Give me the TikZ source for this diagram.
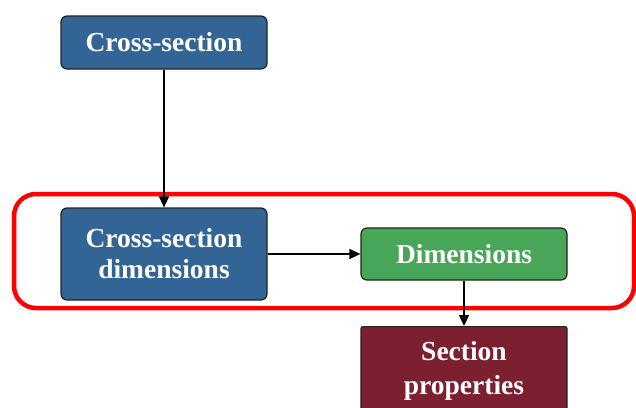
\documentclass[tikz,border=0pt]{standalone}
\usepackage{fontspec}
\setmainfont{Liberation Serif}
\usetikzlibrary{arrows.meta}
\definecolor{boxblue}{RGB}{50,100,150}
\definecolor{boxgreen}{RGB}{72,166,88}
\definecolor{boxmaroon}{RGB}{124,31,48}
\definecolor{edgegrey}{RGB}{35,35,35}
\begin{document}
\begin{tikzpicture}[x=1pt,y=-1pt,
  labelfont/.style={font=\bfseries\fontsize{27.5}{31}\selectfont},
  stagebox/.style={draw=edgegrey,line width=1.2pt,rounded corners=6pt,
    text=white,labelfont,align=center,inner sep=0pt},
  link/.style={line width=1.4pt,-{Triangle[length=11pt,width=10pt]}}]
\useasboundingbox (0,0) rectangle (636,407);
% highlighted group
\draw[red,line width=4.5pt,rounded corners=22pt] (14,194) rectangle (634,308);
% stages
\node[stagebox,fill=boxblue,minimum width=206pt,minimum height=53pt]
  (cs) at (164,42.5) {Cross-section};
\node[stagebox,fill=boxblue,minimum width=206pt,minimum height=92pt]
  (csd) at (164,254) {Cross-section\\dimensions};
\node[stagebox,fill=boxgreen,minimum width=206pt,minimum height=52pt]
  (dim) at (464,254) {Dimensions};
\node[stagebox,fill=boxmaroon,rounded corners=2pt,minimum width=206pt,
  minimum height=120pt,anchor=north] (sp) at (464,326) {};
\node[text=white,font=\bfseries\fontsize{27.5}{34}\selectfont,align=center]
  (splabel) at (464,371) {Section\\properties};
% connectors
\draw[link] (cs.south) -- (csd.north);
\draw[link] (csd.east) -- (dim.west);
\draw[link] (dim.south) -- (sp.north);
\end{tikzpicture}
\end{document}
